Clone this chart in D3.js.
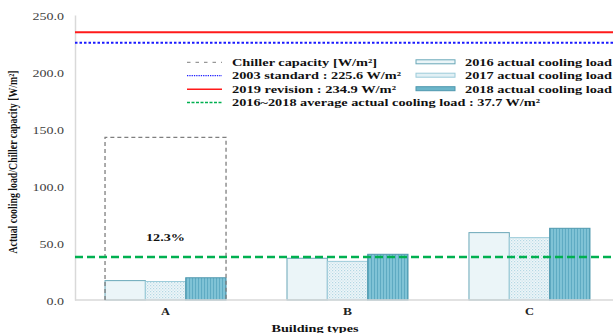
<!DOCTYPE html>
<html>
<head>
<meta charset="utf-8">
<script src="https://cdn.jsdelivr.net/npm/d3@7/dist/d3.min.js"></script>
<style>
  html, body { margin: 0; padding: 0; background: #fff; }
  svg { display: block; }
</style>
</head>
<body>
<svg id="chart" width="613" height="333"></svg>
<script>
// Building types and yearly actual cooling loads [W/m²]
const buildings = ["A", "B", "C"];
const years = ["2016", "2017", "2018"];
const load2016 = [17.0, 36.6, 59.1];
const load2017 = [16.2, 33.9, 54.7];
const load2018 = [19.5, 40.1, 62.9];

// Chiller capacity is only reported for building A
const chillerBuilding = ["A"];
const chillerCapacity = [142.7];
const chillerRatioLabel = ["12.3%"];

// Reference lines
const standard2003 = 225.6;
const revision2019 = 234.9;
const averageLoad = 37.7;

const yTicks = [0, 50, 100, 150, 200, 250];

const seriesLabels = ["2016 actual cooling load", "2017 actual cooling load", "2018 actual cooling load"];
const lineLabels = [
  "Chiller capacity [W/m²]",
  "2003 standard : 225.6 W/m²",
  "2019 revision : 234.9 W/m²",
  "2016~2018 average actual cooling load : 37.7 W/m²"
];

const SERIF = "'Liberation Serif', 'Times New Roman', Times, serif";

const rows = buildings.map((b, i) => ({
  building: b,
  values: [load2016[i], load2017[i], load2018[i]]
}));

const svg = d3.select("#chart").attr("font-family", SERIF);
const plot = { left: 75, right: 620, top: 15, bottom: 300 };

const x = d3.scaleBand()
  .domain(buildings)
  .range([plot.left, plot.right])
  .paddingInner(0.335)
  .paddingOuter(0.165);

const x1 = d3.scaleBand()
  .domain(years)
  .range([0, x.bandwidth()])
  .padding(0);

const y = d3.scaleLinear()
  .domain([0, 250])
  .range([plot.bottom, plot.top]);

// Fill patterns for the bars
const defs = svg.append("defs");
const dots = defs.append("pattern")
  .attr("id", "dots2017").attr("patternUnits", "userSpaceOnUse")
  .attr("width", 3).attr("height", 3);
dots.append("rect").attr("width", 3).attr("height", 3).attr("fill", "#eef6f9");
dots.append("rect").attr("x", 0).attr("y", 0).attr("width", 1.2).attr("height", 1.2).attr("fill", "#b3d7e3");
dots.append("rect").attr("x", 1.5).attr("y", 1.5).attr("width", 1.2).attr("height", 1.2).attr("fill", "#c6e1ea");

const stripes = defs.append("pattern")
  .attr("id", "stripes2018").attr("patternUnits", "userSpaceOnUse")
  .attr("width", 3).attr("height", 4);
stripes.append("rect").attr("width", 3).attr("height", 4).attr("fill", "#80c3d6");
stripes.append("rect").attr("x", 0).attr("width", 1).attr("height", 4).attr("fill", "#5eaac2");

const barFill = { "2016": "#ebf5f8", "2017": "url(#dots2017)", "2018": "url(#stripes2018)" };
const barStroke = { "2016": "#6aa7b8", "2017": "#9ccbd9", "2018": "#4f98ae" };

// Y axis
const yAxis = d3.axisLeft(y)
  .tickValues(yTicks)
  .tickFormat(d3.format(".1f"))
  .tickSize(0)
  .tickPadding(11);

const gy = svg.append("g")
  .attr("transform", `translate(${plot.left},0)`)
  .call(yAxis)
  .attr("font-family", SERIF);
gy.select(".domain").attr("stroke", "#d9d9d9").attr("stroke-width", 1.5);
gy.selectAll(".tick text")
  .attr("font-family", SERIF)
  .attr("font-size", 10)
  .attr("fill", "#404040")
  .attr("dy", "0.42em")
  .attr("textLength", function (d) {
    const s = d3.format(".1f")(d);
    return (s.length - 1) * 7 + 3.5;
  })
  .attr("lengthAdjust", "spacingAndGlyphs");

// Bars
const groups = svg.append("g").selectAll("g")
  .data(rows)
  .join("g")
  .attr("transform", d => `translate(${x(d.building)},0)`);

groups.selectAll("rect")
  .data(d => d.values.map((v, i) => ({ year: years[i], value: v })))
  .join("rect")
  .attr("x", d => x1(d.year))
  .attr("y", d => y(d.value))
  .attr("width", x1.bandwidth())
  .attr("height", d => y(0) - y(d.value))
  .attr("fill", d => barFill[d.year])
  .attr("stroke", d => barStroke[d.year])
  .attr("stroke-width", 1);

// X axis baseline and labels
const xAxis = d3.axisBottom(x).tickSize(0).tickPadding(8);
const gx = svg.append("g")
  .attr("transform", `translate(0,${plot.bottom})`)
  .call(xAxis)
  .attr("font-family", SERIF);
gx.select(".domain").remove();
gx.append("line")
  .attr("x1", plot.left).attr("x2", 613)
  .attr("stroke", "#d9d9d9").attr("stroke-width", 1.5);
gx.selectAll(".tick text")
  .attr("font-family", SERIF)
  .attr("font-size", 10)
  .attr("font-weight", "bold")
  .attr("fill", "#222")
  .attr("textLength", 9)
  .attr("lengthAdjust", "spacingAndGlyphs");

// Chiller capacity outline for building A
const chiller = chillerBuilding.map((b, i) => ({ building: b, value: chillerCapacity[i], label: chillerRatioLabel[i] }));
svg.append("g").selectAll("path")
  .data(chiller)
  .join("path")
  .attr("d", d => {
    const x0 = x(d.building), x2 = x(d.building) + x.bandwidth();
    return `M${x0},${y(0)}V${y(d.value)}H${x2}V${y(0)}`;
  })
  .attr("fill", "none")
  .attr("stroke", "#7f7f7f")
  .attr("stroke-width", 1.3)
  .attr("stroke-dasharray", "4,3");

svg.append("g").selectAll("text")
  .data(chiller)
  .join("text")
  .attr("x", d => x(d.building) + x.bandwidth() / 2)
  .attr("y", 240.5)
  .attr("text-anchor", "middle")
  .attr("font-size", 10)
  .attr("font-weight", "bold")
  .attr("fill", "#111")
  .attr("textLength", 39)
  .attr("lengthAdjust", "spacingAndGlyphs")
  .text(d => d.label);

// Horizontal reference lines
const refLines = [
  { value: revision2019, color: "#ff1a1a", width: 2, dash: null },
  { value: standard2003, color: "#1a1aff", width: 2, dash: "2.5,2" },
  { value: averageLoad, color: "#00b050", width: 2.5, dash: "8,4" }
];
svg.append("g").selectAll("line")
  .data(refLines)
  .join("line")
  .attr("x1", plot.left).attr("x2", 613)
  .attr("y1", d => y(d.value)).attr("y2", d => y(d.value))
  .attr("stroke", d => d.color)
  .attr("stroke-width", d => d.width)
  .attr("stroke-dasharray", d => d.dash);

// Legend
const legend = svg.append("g");
const lineKeys = [
  { color: "#7f7f7f", width: 1, dash: "3.5,5", len: 145 },
  { color: "#2020ff", width: 1.3, dash: "1.3,1", len: 169 },
  { color: "#ff1a1a", width: 1.5, dash: null, len: 164 },
  { color: "#00b050", width: 1.3, dash: "3,1.5", len: 308 }
];
const rowY = [62.3, 75.7, 89.2, 102.5];

lineKeys.forEach((k, i) => {
  legend.append("line")
    .attr("x1", 187).attr("x2", 222)
    .attr("y1", rowY[i]).attr("y2", rowY[i])
    .attr("stroke", k.color).attr("stroke-width", k.width)
    .attr("stroke-dasharray", k.dash);
  legend.append("text")
    .attr("x", 232).attr("y", rowY[i] + 3.6)
    .attr("font-size", 11).attr("font-weight", "bold").attr("fill", "#111")
    .attr("textLength", k.len).attr("lengthAdjust", "spacingAndGlyphs")
    .text(lineLabels[i]);
});

const swatchFill = ["#ebf5f8", "#e2f0f5", "#6cb6ca"];
years.forEach((yr, i) => {
  legend.append("rect")
    .attr("x", 416).attr("y", rowY[i] - 2.5)
    .attr("width", 39).attr("height", 4)
    .attr("fill", swatchFill[i])
    .attr("stroke", barStroke[yr]).attr("stroke-width", 1);
  legend.append("text")
    .attr("x", 465).attr("y", rowY[i] + 3.6)
    .attr("font-size", 11).attr("font-weight", "bold").attr("fill", "#111")
    .attr("textLength", 147).attr("lengthAdjust", "spacingAndGlyphs")
    .text(seriesLabels[i]);
});

// Axis titles
svg.append("text")
  .attr("x", 315).attr("y", 331.5)
  .attr("text-anchor", "middle")
  .attr("font-size", 11).attr("font-weight", "bold").attr("fill", "#111")
  .attr("textLength", 87).attr("lengthAdjust", "spacingAndGlyphs")
  .text("Building types");

svg.append("text")
  .attr("transform", "translate(17,162) rotate(-90)")
  .attr("text-anchor", "middle")
  .attr("font-size", 11.5).attr("font-weight", "bold").attr("fill", "#111")
  .attr("textLength", 183).attr("lengthAdjust", "spacingAndGlyphs")
  .text("Actual cooling load/Chiller capacity [W/m²]");
</script>
</body>
</html>
